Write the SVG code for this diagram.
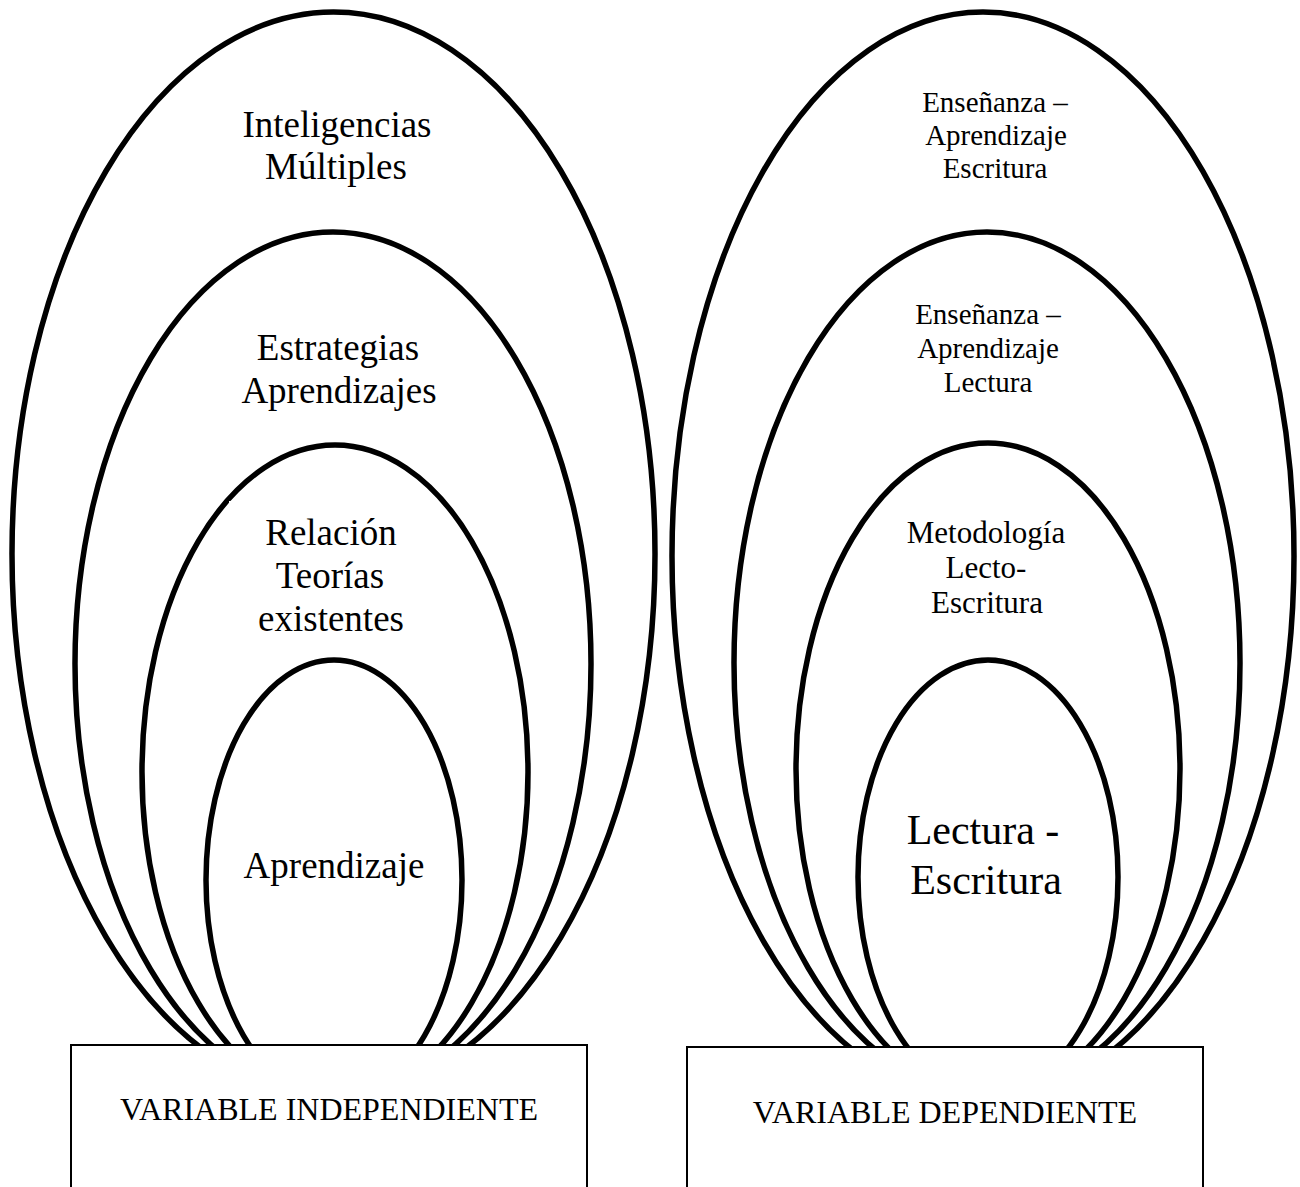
<svg xmlns="http://www.w3.org/2000/svg" width="1300" height="1187" viewBox="0 0 1300 1187">
<style>
.ring{fill:none;stroke:#000;stroke-width:5.5}
.tb{fill:#fff;stroke:none}
.box{fill:#fff;stroke:#000;stroke-width:2}
text{font-family:"Liberation Serif","Times New Roman",serif;fill:#000;text-anchor:middle}
.l{font-size:37px}
.r{font-size:29px}
.m{font-size:31px}
.big{font-size:42px}
.v{font-size:32px}
</style>
<rect width="1300" height="1187" fill="#fff"/>
<g id="left-rings">
<g id="n-inteligencias"><ellipse class="ring" cx="333.5" cy="554" rx="321.5" ry="542"/></g>
<g id="n-estrategias"><ellipse class="ring" cx="333" cy="664" rx="258" ry="432"/></g>
<g id="n-relacion"><ellipse class="ring" cx="335" cy="772" rx="193" ry="327"/></g>
<g id="n-aprendizaje"><ellipse class="ring" cx="334" cy="880" rx="128" ry="220"/></g>
</g>
<g id="right-rings">
<g id="n-ens-escritura"><ellipse class="ring" cx="983" cy="556" rx="311" ry="544"/></g>
<g id="n-ens-lectura"><ellipse class="ring" cx="987" cy="663" rx="253" ry="431"/></g>
<g id="n-metodologia"><ellipse class="ring" cx="988" cy="769" rx="192" ry="326"/></g>
<g id="n-lectoescritura"><ellipse class="ring" cx="988" cy="877" rx="130" ry="217"/></g>
</g>
<g id="labels-left">
<text class="l" x="337" y="137">Inteligencias</text>
<text class="l" x="336" y="179">Múltiples</text>
<text class="l" x="338" y="360">Estrategias</text>
<text class="l" x="339" y="403">Aprendizajes</text>
<rect class="tb" x="229" y="501" width="200" height="140"/>
<text class="l" x="331" y="545">Relación</text>
<text class="l" x="330" y="588">Teorías</text>
<text class="l" x="331" y="631">existentes</text>
<text class="l" x="334" y="878">Aprendizaje</text>
</g>
<g id="labels-right">
<text class="r" x="995" y="112">Enseñanza –</text>
<text class="r" x="996" y="145">Aprendizaje</text>
<text class="r" x="995" y="178">Escritura</text>
<text class="r" x="988" y="324">Enseñanza –</text>
<text class="r" x="988" y="358">Aprendizaje</text>
<text class="r" x="988" y="392">Lectura</text>
<rect class="tb" x="882" y="502" width="200" height="128"/>
<text class="m" x="986" y="543">Metodología</text>
<text class="m" x="986" y="578">Lecto-</text>
<text class="m" x="987" y="613">Escritura</text>
<text class="big" x="983" y="844">Lectura -</text>
<text class="big" x="986" y="894">Escritura</text>
</g>
<g id="n-var-indep">
<rect class="box" x="71" y="1045" width="516" height="170"/>
<text class="v" x="329" y="1120">VARIABLE INDEPENDIENTE</text>
</g>
<g id="n-var-dep">
<rect class="box" x="687" y="1047" width="516" height="170"/>
<text class="v" x="945" y="1123">VARIABLE DEPENDIENTE</text>
</g>
<g id="connectors"></g>
</svg>
